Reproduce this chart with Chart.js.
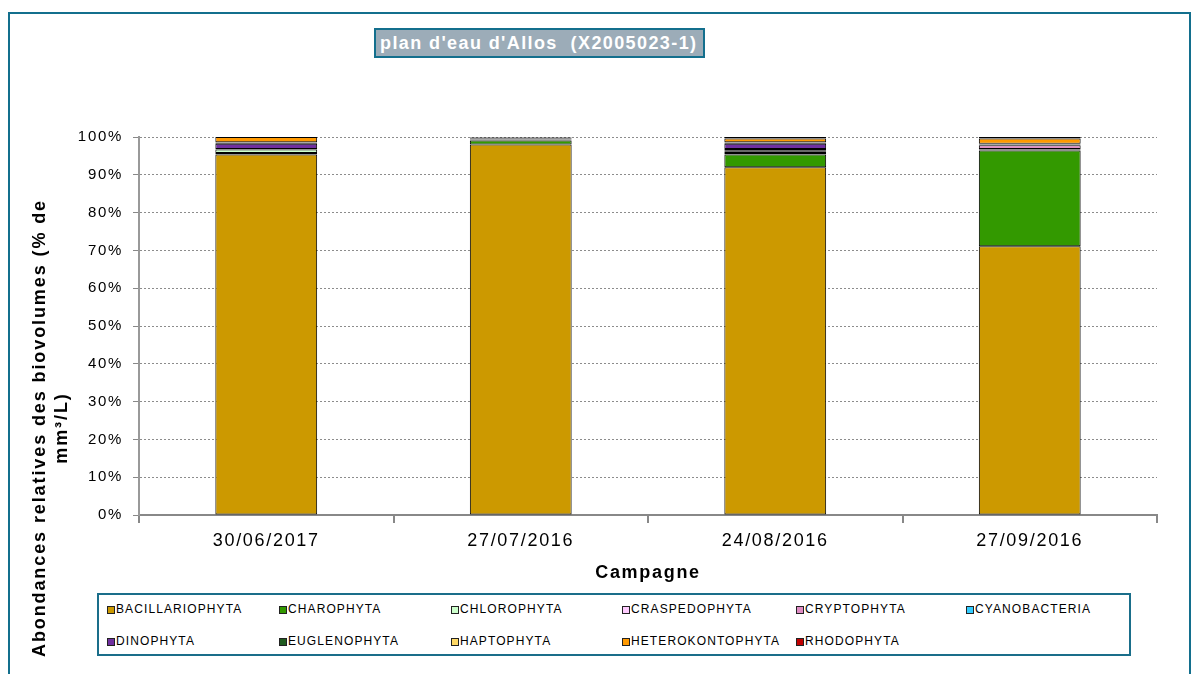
<!DOCTYPE html>
<html>
<head>
<meta charset="utf-8">
<script src="https://cdn.jsdelivr.net/npm/chart.js@4.4.1/dist/chart.umd.min.js"></script>
<style>
  body { margin: 0; background: #fff; font-family: "Liberation Sans", Arial, sans-serif; }
  #page { position: relative; width: 1197px; height: 674px; overflow: hidden; }
  #frame { position: absolute; left: 8px; top: 12px; width: 1183px; height: 700px; border: 2px solid #136f8d; box-sizing: border-box; }
  #chartBox { position: absolute; left: 0; top: 0; width: 1197px; height: 584px; }
  #title { position: absolute; left: 374px; top: 28px; width: 331px; height: 30px; box-sizing: border-box;
           background: #9cacb8; border: 2px solid #136f8d; color: #fff; font-weight: bold; font-size: 18px;
           letter-spacing: 1.4px; line-height: 26px; padding-left: 4px; white-space: nowrap; }
  #yTitle { position: absolute; left: 50px; top: 428px; width: 560px; transform: translate(-50%, -50%) rotate(-90deg);
            text-align: center; font-weight: bold; font-size: 18px; letter-spacing: 1.9px; line-height: 22px; color: #000; }
  #legend { position: absolute; left: 97px; top: 593px; width: 1034px; height: 63px; box-sizing: border-box; border: 2px solid #1a6e8a; }
  .item { position: absolute; font-size: 12px; letter-spacing: 1.1px; color: #000; white-space: nowrap; line-height: 14px; }
  .item i { display: inline-block; width: 6px; height: 6px; border: 1.5px solid #222; margin-right: 1px; vertical-align: -1px; }
</style>
</head>
<body>
<div id="page">
  <div id="frame"></div>
  <div id="chartBox"><canvas id="myChart"></canvas></div>
  <div id="title">plan d'eau d'Allos&nbsp; (X2005023-1)</div>
  <div id="yTitle">Abondances relatives des biovolumes (% de<br>mm³/L)</div>
  <div id="legend"></div>
</div>
<script>
// campaigns and groups
const campagnes = ["30/06/2017", "27/07/2016", "24/08/2016", "27/09/2016"];
const groupes = ["BACILLARIOPHYTA", "CHAROPHYTA", "CHLOROPHYTA", "CRASPEDOPHYTA", "CRYPTOPHYTA", "CYANOBACTERIA",
                 "DINOPHYTA", "EUGLENOPHYTA", "HAPTOPHYTA", "HETEROKONTOPHYTA", "RHODOPHYTA"];

// relative biovolume (%) per group, one value per campaign
const bacillariophyta  = [95.4, 98.0, 92.0, 71.1];
const charophyta       = [0.4, 1.1, 3.4, 25.3];
const chlorophyta      = [0.9, 0.2, 0.4, 0.3];
const craspedophyta    = [0.0, 0.0, 0.3, 0.15];
const cryptophyta      = [0.1, 0.1, 0.4, 0.95];
const cyanobacteria    = [0.0, 0.1, 0.3, 0.1];
const dinophyta        = [1.4, 0.1, 1.4, 0.1];
const euglenophyta     = [0.3, 0.2, 0.3, 0.1];
const haptophyta       = [0.1, 0.0, 0.1, 0.1];
const heterokontophyta = [1.4, 0.1, 1.0, 1.4];
const rhodophyta       = [0.0, 0.1, 0.4, 0.4];

const yTicks = [0, 10, 20, 30, 40, 50, 60, 70, 80, 90, 100];

const series = [bacillariophyta, charophyta, chlorophyta, craspedophyta, cryptophyta, cyanobacteria,
                dinophyta, euglenophyta, haptophyta, heterokontophyta, rhodophyta];
const couleurs = ["#cc9900", "#339900", "#ccffcc", "#ffccff", "#e08cc4", "#33ccff",
                  "#7030a0", "#1f5a1f", "#ffd966", "#ff9900", "#c00000"];

const FONT = "'Liberation Sans', Arial, sans-serif";

// wider text spacing for the axis labels
const spacing = {
  id: "spacing",
  beforeDraw(chart) { chart.ctx.letterSpacing = "1.7px"; }
};

const data = {
  labels: campagnes,
  datasets: groupes.map((g, i) => ({
    label: g,
    data: series[i],
    backgroundColor: couleurs[i],
    borderColor: "#000",
    borderWidth: 1,
    borderSkipped: false,
    categoryPercentage: 1.0,
    barPercentage: 0.4
  }))
};

const config = {
  type: "bar",
  data,
  plugins: [spacing],
  options: {
    responsive: true,
    maintainAspectRatio: false,
    animation: false,
    layout: { padding: { left: 0, top: 137, right: 40, bottom: 0 } },
    plugins: { legend: { display: false }, tooltip: { enabled: false } },
    scales: {
      x: {
        stacked: true,
        afterFit: (s) => { s.height = 69; },
        border: { color: "#888", width: 2 },
        grid: { offset: true, drawOnChartArea: false, drawTicks: true, tickLength: 8, color: "#888", lineWidth: 2 },
        ticks: { color: "#000", padding: 7, font: { family: FONT, size: 18 } },
        title: { display: true, text: "Campagne", color: "#000", padding: 0, font: { family: FONT, size: 18, weight: "bold" } }
      },
      y: {
        stacked: true,
        min: 0,
        max: 100,
        afterFit: (s) => { s.width = 139; },
        afterBuildTicks: (s) => { s.ticks = yTicks.map(v => ({ value: v })); },
        border: { color: "#999", width: 2, dash: [2, 2] },
        grid: { color: "#8c8c8c", lineWidth: 1, tickLength: 6, tickColor: "#888", tickBorderDash: [] },
        ticks: { color: "#000", padding: 10, font: { family: FONT, size: 15 }, callback: v => v + "%" }
      }
    }
  }
};

const myChart = new Chart(document.getElementById("myChart"), config);

// legend, two rows of six columns
const legend = document.getElementById("legend");
const colX = [107, 279, 451, 622, 796, 966];
const rowY = [609, 641];
groupes.forEach((g, i) => {
  const el = document.createElement("div");
  el.className = "item";
  el.style.left = (colX[i % 6] - 97 - 2) + "px";
  el.style.top = (rowY[Math.floor(i / 6)] - 593 - 2 - 7) + "px";
  el.innerHTML = '<i style="background:' + couleurs[i] + '"></i>' + g;
  legend.appendChild(el);
});
</script>
</body>
</html>
